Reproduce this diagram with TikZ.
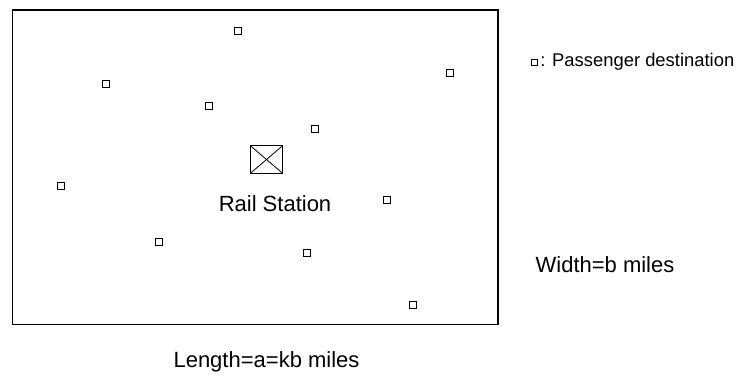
\documentclass[tikz,border=0pt]{standalone}
\usepackage{fontspec}
\setmainfont{Liberation Sans}
\begin{document}
\begin{tikzpicture}[x=0.75pt,y=-0.75pt,
  dest/.style={draw,line width=0.8pt,minimum size=5.2pt,inner sep=0pt},
  legendsq/.style={draw,line width=0.7pt,minimum size=4.5pt,inner sep=0pt},
  station/.style={draw,line width=0.8pt,minimum width=24pt,minimum height=20.5pt,inner sep=0pt,
    path picture={\draw[line width=0.6pt] (path picture bounding box.north west) -- (path picture bounding box.south east)
      (path picture bounding box.north east) -- (path picture bounding box.south west);}},
  lbl/.style={font=\fontsize{16.5pt}{19pt}\selectfont,inner sep=0pt}]
\useasboundingbox (0,0) rectangle (740,376);
% service region
\draw[line width=1.1pt] (12.5,10) rectangle (498,324.5);
% rail station
\node[station] (rs) at (266.5,159.5) {};
\node[lbl] (rslabel) at (275,204) {Rail Station};
% passenger destinations
\foreach \p/\x/\y in {d1/238/31, d2/106/84, d3/209/106, d4/450/73, d5/315/129,
                      d6/61/186, d7/387/200, d8/159/242, d9/307/253, d10/413/305}
  \node[dest] (\p) at (\x,\y) {};
% legend
\node[legendsq] (lsq) at (534,62.5) {};
\node[anchor=west,inner sep=0pt,font=\fontsize{13.8pt}{16pt}\selectfont] (ltext) at (540,62) {: Passenger destination};
% dimensions
\node[lbl] (width) at (605,265) {Width=b miles};
\node[lbl] (length) at (266.5,362) {Length=a=kb miles};
\end{tikzpicture}
\end{document}
